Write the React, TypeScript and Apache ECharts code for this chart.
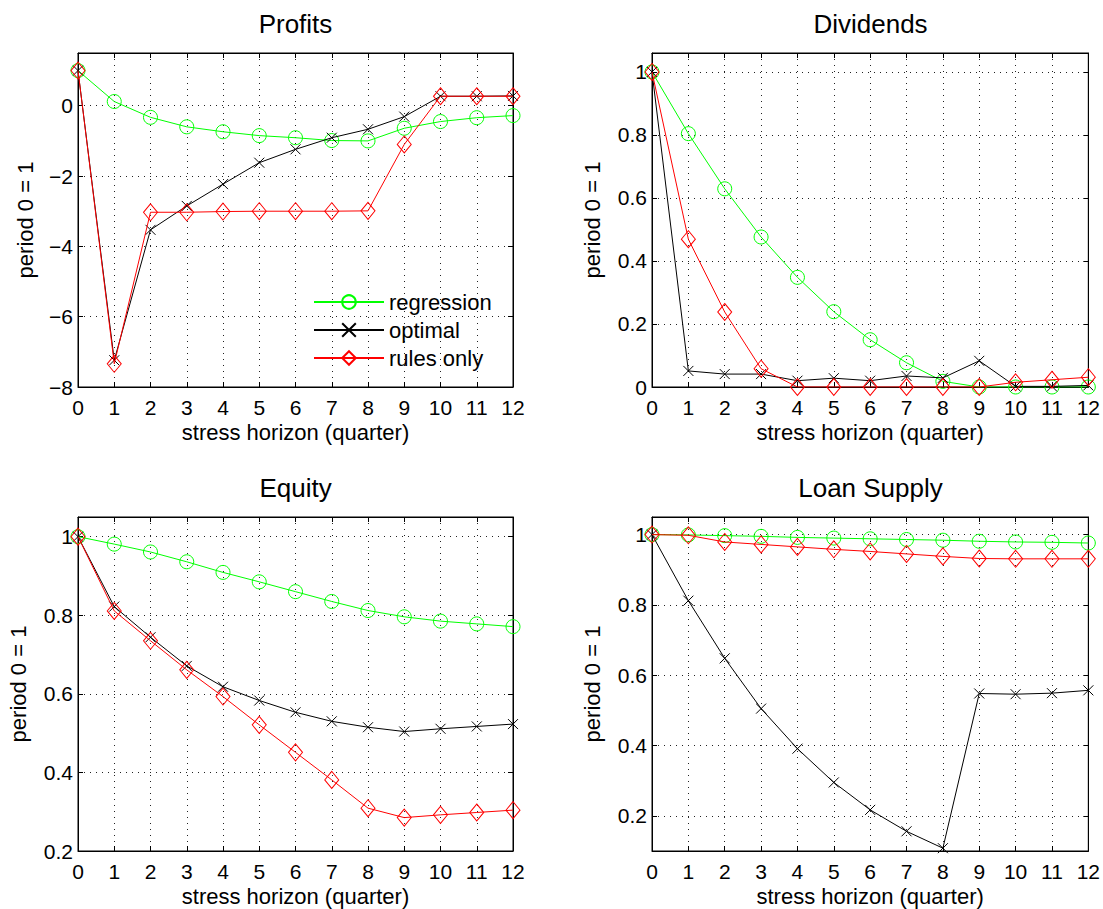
import React, { useEffect, useRef } from "react";
import * as echarts from "echarts";

// ---- data ----
const horizon = [0, 1, 2, 3, 4, 5, 6, 7, 8, 9, 10, 11, 12];
const seriesNames = ["regression", "optimal", "rules only"];
const panelTitles = ["Profits", "Dividends", "Equity", "Loan Supply"];
const xAxisTitle = "stress horizon (quarter)";
const yAxisTitle = "period 0 = 1";

const profitsRegression = [1, 0.12, -0.33, -0.6, -0.74, -0.85, -0.91, -0.99, -1.0, -0.64, -0.45, -0.34, -0.28];
const profitsOptimal = [1, -7.24, -3.53, -2.85, -2.23, -1.62, -1.24, -0.91, -0.67, -0.31, 0.27, 0.27, 0.28];
const profitsRules = [1, -7.34, -3.03, -3.03, -3.01, -3.0, -3.0, -3.0, -2.99, -1.1, 0.27, 0.27, 0.27];

const dividendsRegression = [1, 0.804, 0.629, 0.476, 0.348, 0.239, 0.15, 0.077, 0.018, 0, 0, 0, 0];
const dividendsOptimal = [1, 0.051, 0.041, 0.041, 0.02, 0.028, 0.02, 0.035, 0.029, 0.083, 0.002, 0.002, 0.005];
const dividendsRules = [1, 0.469, 0.238, 0.058, 0, 0, 0, 0, 0, 0, 0.015, 0.023, 0.031];

const equityRegression = [1, 0.981, 0.961, 0.936, 0.909, 0.885, 0.86, 0.835, 0.812, 0.796, 0.785, 0.778, 0.771];
const equityOptimal = [1, 0.822, 0.744, 0.671, 0.618, 0.583, 0.553, 0.53, 0.515, 0.504, 0.511, 0.517, 0.523];
const equityRules = [1, 0.811, 0.735, 0.661, 0.593, 0.521, 0.451, 0.381, 0.309, 0.285, 0.292, 0.298, 0.304];

const loanRegression = [1, 0.999, 0.997, 0.995, 0.992, 0.99, 0.988, 0.986, 0.984, 0.981, 0.979, 0.978, 0.976];
const loanOptimal = [1, 0.812, 0.648, 0.505, 0.391, 0.295, 0.217, 0.156, 0.108, 0.548, 0.546, 0.549, 0.557];
const loanRules = [1, 0.998, 0.979, 0.972, 0.965, 0.958, 0.952, 0.945, 0.938, 0.932, 0.931, 0.931, 0.931];

const panelData = [
  [profitsRegression, profitsOptimal, profitsRules],
  [dividendsRegression, dividendsOptimal, dividendsRules],
  [equityRegression, equityOptimal, equityRules],
  [loanRegression, loanOptimal, loanRules],
];

// y ranges: [min, max, step]
const yRanges = [
  [-8, 1.5, 2],
  [0, 1.06, 0.2],
  [0.2, 1.05, 0.2],
  [0.1, 1.05, 0.2],
];

// ---- layout / style ----
const FONT = "'Liberation Sans', Arial, Helvetica, sans-serif";
const grids = [
  { left: 78, top: 53, width: 435, height: 334 },
  { left: 652, top: 53, width: 437, height: 334 },
  { left: 78, top: 517, width: 435, height: 334 },
  { left: 652, top: 517, width: 437, height: 334 },
];
const yNameGaps = [42, 49, 49, 49];
const colors = ["#00ff00", "#000000", "#ff0000"];
const symbols = ["circle", "path://M0,0L10,10M10,0L0,10", "diamond"];
const symbolSizes: any[] = [14, 10, [14, 17]];

function fmt(v: number, step: number) {
  const k = v / step;
  if (Math.abs(k - Math.round(k)) > 1e-6) return "";
  const s = String(parseFloat(v.toFixed(3)));
  return s.replace("-", "\u2212");
}

export default function App() {
  const ref = useRef<HTMLDivElement>(null);
  useEffect(() => {
    if (!ref.current) return;
    const chart = echarts.init(ref.current, undefined, { renderer: "svg" });
    const xAxes: any[] = [];
    const yAxes: any[] = [];
    const series: any[] = [];
    const dotted = { show: true, lineStyle: { color: "#222", width: 1, type: [1, 5] } };
    grids.forEach((g, i) => {
      const [ymin, ymax, step] = yRanges[i];
      xAxes.push({
        gridIndex: i,
        type: "value",
        min: 0,
        max: 12,
        interval: 1,
        position: "bottom",
        name: xAxisTitle,
        nameLocation: "middle",
        nameGap: 34,
        nameTextStyle: { fontSize: 22, color: "#000", fontFamily: FONT },
        axisLine: { show: true, onZero: false, lineStyle: { color: "#000", width: 1 } },
        axisTick: { show: true, inside: true, length: 5, lineStyle: { color: "#000" } },
        axisLabel: { show: true, margin: 10, fontSize: 21, color: "#000", fontFamily: FONT },
        splitLine: dotted,
      });
      xAxes.push({
        gridIndex: i,
        type: "value",
        min: 0,
        max: 12,
        interval: 1,
        position: "top",
        axisLine: { show: true, onZero: false, lineStyle: { color: "#000", width: 1 } },
        axisTick: { show: true, inside: true, length: 5, lineStyle: { color: "#000" } },
        axisLabel: { show: false },
        splitLine: { show: false },
      });
      const yBase: any = {
        gridIndex: i,
        type: "value",
        min: ymin,
        max: ymax,
      };
      if (i === 3) {
        yBase.minInterval = step;
        yBase.maxInterval = step;
      } else {
        yBase.interval = step;
      }
      yAxes.push({
        ...yBase,
        position: "left",
        name: yAxisTitle,
        nameLocation: "middle",
        nameGap: yNameGaps[i],
        nameTextStyle: { fontSize: 22, color: "#000", fontFamily: FONT },
        axisLine: { show: true, onZero: false, lineStyle: { color: "#000", width: 1 } },
        axisTick: { show: true, inside: true, length: 5, lineStyle: { color: "#000" } },
        axisLabel: {
          show: true,
          margin: 5,
          fontSize: 21,
          color: "#000",
          fontFamily: FONT,
          showMinLabel: true,
          showMaxLabel: true,
          formatter: (v: number) => fmt(v, step),
        },
        splitLine: dotted,
      });
      yAxes.push({
        ...yBase,
        position: "right",
        axisLine: { show: true, onZero: false, lineStyle: { color: "#000", width: 1 } },
        axisTick: { show: true, inside: true, length: 5, lineStyle: { color: "#000" } },
        axisLabel: { show: false },
        splitLine: { show: false },
      });
      panelData[i].forEach((vals, s) => {
        series.push({
          name: seriesNames[s],
          type: "line",
          xAxisIndex: 2 * i,
          yAxisIndex: 2 * i,
          data: horizon.map((x, j) => [x, vals[j]]),
          symbol: symbols[s],
          symbolSize: symbolSizes[s],
          showAllSymbol: true,
          lineStyle: { color: colors[s], width: 1 },
          itemStyle: { color: "rgba(0,0,0,0)", borderColor: colors[s], borderWidth: 1 },
          emphasis: { disabled: true },
          z: 2 + s,
        });
      });
    });

    const titleGraphics = panelTitles.map((t, i) => {
      const g = grids[i];
      return {
        type: "text",
        x: g.left + g.width / 2,
        y: g.top - 29,
        style: {
          text: t,
          font: `26px ${FONT}`,
          fill: "#000",
          textAlign: "center",
          textVerticalAlign: "middle",
          align: "center",
          verticalAlign: "middle",
        },
      };
    });

    chart.setOption({
      animation: false,
      backgroundColor: "#fff",
      textStyle: { fontFamily: FONT },
      grid: grids.map((g) => ({ ...g, show: true, borderColor: "#000", borderWidth: 1, backgroundColor: "#fff", containLabel: false })),
      xAxis: xAxes,
      yAxis: yAxes,
      series,
      legend: {
        data: seriesNames,
        orient: "vertical",
        left: 313,
        top: 291,
        padding: 0,
        itemGap: 6,
        itemWidth: 70,
        itemHeight: 17,
        selectedMode: false,
        textStyle: { fontSize: 22, color: "#000", fontFamily: FONT, lineHeight: 22 },
      },
      graphic: titleGraphics,
    });
    return () => chart.dispose();
  }, []);
  return (
    <div
      ref={ref}
      style={{ position: "fixed", left: 0, top: 0, width: 1103, height: 909, background: "#fff" }}
    />
  );
}
